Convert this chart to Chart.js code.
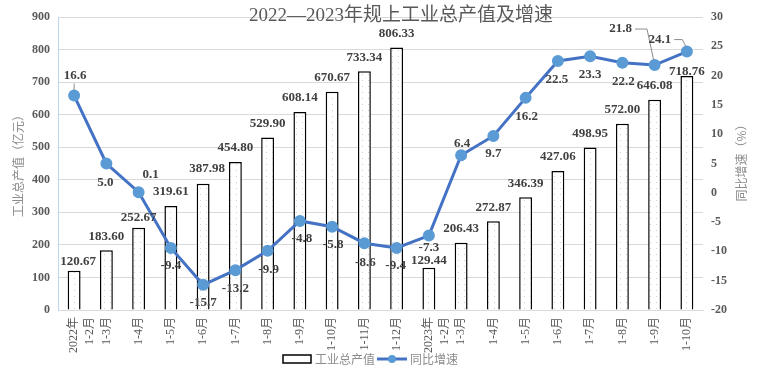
<!DOCTYPE html>
<html>
<head>
<meta charset="utf-8">
<title>2022—2023年规上工业总产值及增速</title>
<script src="https://cdn.jsdelivr.net/npm/chart.js"></script>
<style>
  html, body { margin: 0; padding: 0; background: #fff; }
  canvas { display: block; }
</style>
</head>
<body>
<canvas id="chart" width="763" height="373"></canvas>
<script>
// data
const categories = [
  ['2022年', '1-2月'], '1-3月', '1-4月', '1-5月', '1-6月', '1-7月', '1-8月', '1-9月', '1-10月', '1-11月', '1-12月',
  ['2023年', '1-2月'], '1-3月', '1-4月', '1-5月', '1-6月', '1-7月', '1-8月', '1-9月', '1-10月'
];
const outputValues = [120.67, 183.60, 252.67, 319.61, 387.98, 454.80, 529.90, 608.14, 670.67, 733.34, 806.33,
  129.44, 206.43, 272.87, 346.39, 427.06, 498.95, 572.00, 646.08, 718.76];
const growthValues = [16.6, 5.0, 0.1, -9.4, -15.7, -13.2, -9.9, -4.8, -5.8, -8.6, -9.4,
  -7.3, 6.4, 9.7, 16.2, 22.5, 23.3, 22.2, 21.8, 24.1];
const leftTicks = { min: 0, max: 900, step: 100 };
const rightTicks = { min: -20, max: 30, step: 5 };

// label placement (pixels, relative to the mark)
const barLabelShift = {0: [4, -9], 2: [0, -10], 4: [4, -15], 11: [0, -7], 19: [0, -4]};
const lineLabelShift = [[1, -20], [-1, 19], [12, -18], [0, 18], [0, 18], [0, 18], [1, 19], [2, 18], [1, 18], [1, 19], [-1, 18],
  [0, 12], [1, -12], [0, 18], [1, 19], [-1, 19], [0, 18], [1, 19], [-34, -36], [-27, -12]];

const serif = "'Liberation Serif', 'Noto Sans CJK SC', serif";
const cjk = "'Noto Sans CJK SC', 'Liberation Serif', sans-serif";
Chart.defaults.font.family = serif;

function dotPattern() {
  const c = document.createElement('canvas');
  c.width = 6; c.height = 6;
  const g = c.getContext('2d');
  g.fillStyle = '#fff';
  g.fillRect(0, 0, 6, 6);
  g.fillStyle = '#cfcfcf';
  g.fillRect(2, 2, 1, 1);
  return g.createPattern(c, 'repeat');
}

const decorations = {
  id: 'decorations',
  afterDatasetsDraw(chart) {
    const ctx = chart.ctx;
    ctx.save();
    ctx.font = 'bold 13px ' + serif;
    ctx.fillStyle = '#404040';
    ctx.textAlign = 'center';
    ctx.textBaseline = 'middle';

    // bar labels
    const barMeta = chart.getDatasetMeta(1);
    barMeta.data.forEach((bar, i) => {
      const s = barLabelShift[i] || [0, -14];
      ctx.fillText(outputValues[i].toFixed(2), bar.x + s[0], bar.y + s[1]);
    });

    // line labels + leader lines
    const lineMeta = chart.getDatasetMeta(0);
    ctx.strokeStyle = '#8c8c8c';
    ctx.lineWidth = 1;
    lineMeta.data.forEach((pt, i) => {
      const s = lineLabelShift[i];
      const lx = pt.x + s[0], ly = pt.y + s[1];
      ctx.fillText(growthValues[i].toFixed(1), lx, ly);
      if (i === 0) {
        ctx.beginPath();
        ctx.moveTo(pt.x, ly + 8);
        ctx.lineTo(pt.x, pt.y - 5);
        ctx.stroke();
      } else if (i === 18 || i === 19) {
        const w = ctx.measureText(growthValues[i].toFixed(1)).width;
        const sx = lx + w / 2 + 3;
        ctx.beginPath();
        ctx.moveTo(sx, ly);
        ctx.lineTo(sx + (i === 18 ? 12 : 8), ly);
        ctx.lineTo(pt.x - 1, pt.y - 5);
        ctx.stroke();
      }
    });
    ctx.restore();
  },
  afterDraw(chart) {
    const ctx = chart.ctx;
    ctx.save();
    // title
    ctx.font = '19px ' + serif;
    ctx.fillStyle = '#595959';
    ctx.textAlign = 'center';
    ctx.textBaseline = 'middle';
    ctx.fillText('2022—2023年规上工业总产值及增速', 401, 16);

    // axis titles
    ctx.font = '12px ' + cjk;
    ctx.fillStyle = '#8c8c8c';
    ctx.save();
    ctx.translate(18, 163);
    ctx.rotate(-Math.PI / 2);
    ctx.fillText('工业总产值（亿元）', 0, 0);
    ctx.restore();
    ctx.save();
    ctx.translate(741, 160);
    ctx.rotate(-Math.PI / 2);
    ctx.fillText('同比增速（%）', 0, 0);
    ctx.restore();

    // legend
    const ly = 359;
    ctx.fillStyle = '#fff';
    ctx.fillRect(283, ly - 4, 28, 8);
    ctx.strokeStyle = '#000';
    ctx.lineWidth = 1.5;
    ctx.strokeRect(283, ly - 4, 28, 8);
    ctx.fillStyle = '#8c8c8c';
    ctx.textAlign = 'left';
    ctx.fillText('工业总产值', 315, ly);
    ctx.strokeStyle = '#4472c4';
    ctx.lineWidth = 3;
    ctx.beginPath();
    ctx.moveTo(377, ly);
    ctx.lineTo(407, ly);
    ctx.stroke();
    ctx.fillStyle = '#5b9bd5';
    ctx.beginPath();
    ctx.arc(392, ly, 4, 0, Math.PI * 2);
    ctx.fill();
    ctx.fillStyle = '#8c8c8c';
    ctx.fillText('同比增速', 410, ly);
    ctx.restore();
  }
};

const tickFont = { family: serif, size: 12, weight: 'bold' };

new Chart(document.getElementById('chart'), {
  data: {
    labels: categories,
    datasets: [
      {
        type: 'line',
        label: '同比增速',
        data: growthValues,
        yAxisID: 'y1',
        borderColor: '#4472c4',
        borderWidth: 3,
        pointRadius: 4.5,
        pointBackgroundColor: '#5b9bd5',
        pointBorderColor: '#5b9bd5',
        tension: 0,
        order: 0
      },
      {
        type: 'bar',
        label: '工业总产值',
        data: outputValues,
        yAxisID: 'y',
        backgroundColor: dotPattern(),
        borderColor: '#000',
        borderWidth: 1.5,
        barPercentage: 0.4,
        categoryPercentage: 1,
        order: 1
      }
    ]
  },
  options: {
    responsive: false,
    animation: false,
    layout: { padding: { top: 17 } },
    plugins: {
      legend: { display: false },
      title: { display: false },
      tooltip: { enabled: false }
    },
    scales: {
      x: {
        grid: { display: false, drawTicks: false },
        border: { color: '#d9d9d9' },
        ticks: {
          autoSkip: false, minRotation: 90, maxRotation: 90, padding: 7,
          color: '#595959', font: { family: serif, size: 12, lineHeight: 1.3 }
        },
        afterFit: s => { s.height = 63; }
      },
      y: {
        position: 'left',
        min: leftTicks.min, max: leftTicks.max,
        ticks: { stepSize: leftTicks.step, padding: 8, color: '#595959', font: tickFont },
        grid: { color: '#d9d9d9', drawTicks: false },
        border: { color: '#bdd7ee' },
        afterFit: s => { s.width = 58; }
      },
      y1: {
        position: 'right',
        min: rightTicks.min, max: rightTicks.max,
        ticks: { stepSize: rightTicks.step, padding: 8, color: '#595959', font: tickFont },
        grid: { display: false, drawTicks: false },
        border: { display: false },
        afterFit: s => { s.width = 60; }
      }
    }
  },
  plugins: [decorations]
});
</script>
</body>
</html>
